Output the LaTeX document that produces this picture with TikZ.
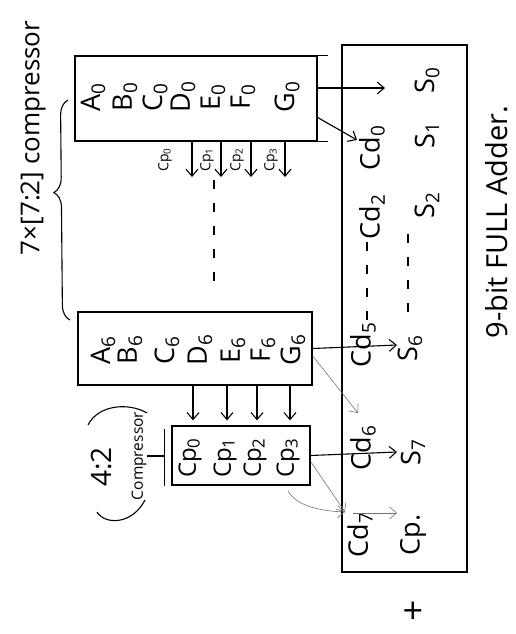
\documentclass[tikz,border=0pt]{standalone}
\usepackage{fontspec}
\setmainfont{Open Sans}
\usetikzlibrary{arrows.meta,decorations.pathreplacing,calc}
\newcommand\mylab[2]{#1\textsubscript{#2}}
\begin{document}
\begin{tikzpicture}[x=1pt,y=-1pt,
  box/.style={draw, line width=1.3pt, inner sep=0pt},
  big/.style={rotate=90, font=\fontsize{27}{29}\selectfont, inner sep=0pt},
  mid/.style={rotate=90, font=\fontsize{24}{26}\selectfont, inner sep=0pt},
  small/.style={rotate=90, font=\fontsize{14}{15}\selectfont, inner sep=0pt},
  ink/.style={line width=1.1pt},
  pencil/.style={line width=0.6pt, draw=black!55},
  arr/.style={-{Straight Barb[length=7pt,width=12pt]}},
  dots/.style={line width=1.2pt, dash pattern=on 9pt off 14pt}
]
\useasboundingbox (0,0) rectangle (515,634);

% boxes
\node[box, minimum width=242pt, minimum height=85pt] (box1) at (196,98.5) {};
\node[box, minimum width=234pt, minimum height=73pt] (box2) at (195,348.5) {};
\node[box, minimum width=138pt, minimum height=59pt] (box3) at (241,455.5) {};
\node[box, minimum width=125pt, minimum height=527pt] (fa) at (404.5,308.5) {};

% box1 labels
\foreach \n/\x/\t in {a0/93/A,b0/125/B,c0/155/C,d0/183/D,e0/213/E,f0/243/F,g0/287/G}
  \node[big] (\n) at (\x,97) {\mylab{\t}{0}};
\draw[ink] (box1.north east) -- ++(10,0);
\draw[ink] (box1.south east) -- ++(10,0);

% Cp labels under box1
\node[small] (tcp0) at (165,160) {\mylab{Cp}{0}};
\node[small] (tcp1) at (207,160) {\mylab{Cp}{1}};
\node[small] (tcp2) at (237,160) {\mylab{Cp}{2}};
\node[small] (tcp3) at (271,160) {\mylab{Cp}{3}};
\foreach \i/\x in {1/192,2/221,3/251,4/285}{
  \coordinate (ta\i) at (\x,177);
  \draw[ink,arr] (ta\i |- box1.south) -- (ta\i);
}

% dotted continuation
\coordinate (dtop) at (214,180);
\coordinate (dbot) at (214,290);
\draw[dots] (dtop) -- (dbot);

% box2 labels
\foreach \n/\x/\t in {a6/103/A,b6/130/B,c6/167/C,d6/200/D,e6/233/E,f6/263/F,g6/293/G}
  \node[big] (\n) at (\x,350) {\mylab{\t}{6}};

% arrows box2 -> box3
\foreach \i/\x in {1/193,2/227,3/257,4/290}{
  \coordinate (ba\i) at (\x,0);
  \draw[ink,arr,shorten >=5pt] (ba\i |- box2.south) -- (ba\i |- box3.north);
}

% box3 labels
\node[mid] (cp0) at (190,458) {\mylab{Cp}{0}};
\node[mid] (cp1) at (225,458) {\mylab{Cp}{1}};
\node[mid] (cp2) at (255,458) {\mylab{Cp}{2}};
\node[mid] (cp3) at (288,458) {\mylab{Cp}{3}};
\coordinate (bar) at ([xshift=-7pt]box3.west);
\draw[ink] ([xshift=-7pt,yshift=-4pt]box3.north west) -- ([xshift=-7pt]box3.south west);

% 4:2 compressor annotation
\node[rotate=90, font=\fontsize{28}{30}\selectfont, inner sep=0pt] (ratio) at (102,467) {4:2};
\node[rotate=90, font=\fontsize{15.5}{17}\selectfont, inner sep=0pt] (comp) at (139,456) {Compressor};
\coordinate (pa1) at (88,425);
\coordinate (pa2) at (147,413);
\draw[ink] (pa1) .. controls (98,405) and (128,402) .. (pa2);
\coordinate (pb1) at (97,512);
\coordinate (pb2) at (145,500);
\draw[ink] (pb1) .. controls (105,525) and (132,525) .. (pb2);
\draw[ink] (comp.south) -- (comp.south -| bar);

% title and brace
\node[rotate=90, font=\fontsize{26}{28}\selectfont, inner sep=0pt] (title) at (33,138) {7×[7:2] compressor};
\coordinate (brtop) at (68,100);
\coordinate (brbot) at (70,320);
\draw[ink, decorate, decoration={brace, amplitude=15pt, aspect=0.58}] (brbot) -- (brtop);

% full adder labels
\node[big] (s0) at (427,80) {\mylab{S}{0}};
\node[big] (s1) at (427,135) {\mylab{S}{1}};
\node[big] (s2) at (427,205) {\mylab{S}{2}};
\node[big] (s6) at (410,348) {\mylab{S}{6}};
\node[big] (s7) at (413,452) {\mylab{S}{7}};
\node[big] (cp) at (413,535) {Cp.};
\node[big] (cd0) at (372,148) {\mylab{Cd}{0}};
\node[big] (cd2) at (372,217) {\mylab{Cd}{2}};
\node[big] (cd5) at (363,345) {\mylab{Cd}{5}};
\node[big] (cd6) at (363,448) {\mylab{Cd}{6}};
\node[big] (cd7) at (360,535) {\mylab{Cd}{7}};
\coordinate (sdt) at (408,234);
\coordinate (sdb) at (408,312);
\draw[dots] (sdt) -- (sdb);
\coordinate (cdt) at (367,242);
\coordinate (cdb) at (367,330);
\draw[dots] (cdt) -- (cdb);
\node[rotate=90, font=\fontsize{29}{31}\selectfont, inner sep=0pt] (fatitle) at (497,222) {9-bit FULL Adder.};
\node[font=\fontsize{36}{36}\selectfont, inner sep=0pt] (plus) at (413,613) {+};

% connectors to the adder
\coordinate (o0) at (385,88);
\draw[ink,arr] (box1.east |- o0) -- (o0);
\coordinate (o1) at (357,140);
\draw[ink,arr] ($(box1.north east)!0.72!(box1.south east)$) -- (o1);
\coordinate (o2) at (397,345);
\draw[ink,arr] (box2.east) -- (o2);
\coordinate (o3) at (358,413);
\draw[pencil,arr] ($(box2.north east)!0.6!(box2.south east)$) -- (o3);
\coordinate (o4) at (397,452);
\draw[ink,arr] (box3.east) -- (o4);
\coordinate (o5) at (345,512);
\draw[pencil,arr] ($(box3.north east)!0.6!(box3.south east)$) -- (o5);
\coordinate (c3s) at ([yshift=-5pt]box3.south -| cp3);
\draw[pencil,arr] (c3s) .. controls (296,506) and (320,511) .. (o5);
\coordinate (o6) at (353,513);
\coordinate (o7) at (397,513);
\draw[pencil,arr] (o6) -- (o7);
\end{tikzpicture}
\end{document}
